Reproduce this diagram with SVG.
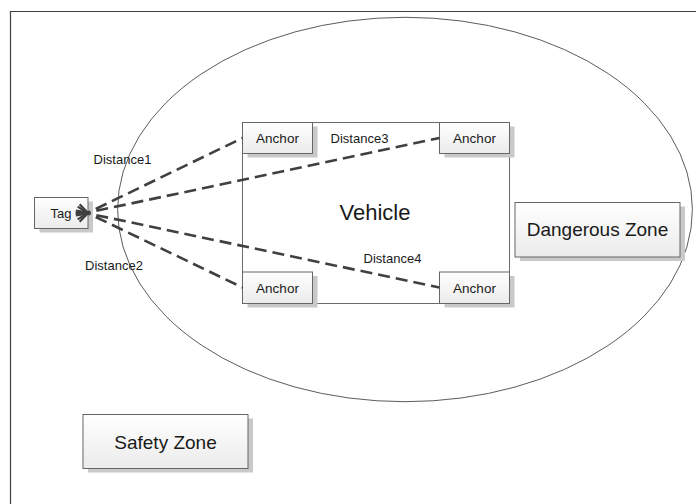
<svg xmlns="http://www.w3.org/2000/svg" width="696" height="504" viewBox="0 0 696 504">
  <defs>
    <linearGradient id="boxFill" x1="0" y1="0" x2="0" y2="1">
      <stop offset="0" stop-color="#ffffff"/>
      <stop offset="1" stop-color="#ebebeb"/>
    </linearGradient>
    <marker id="openArrow" viewBox="-1 -7 16 14" refX="0" refY="0" markerWidth="16" markerHeight="14" markerUnits="userSpaceOnUse" orient="auto-start-reverse">
      <path d="M12,-4.5 L0,0 L12,4.5" fill="none" stroke="#404040" stroke-width="2.2" stroke-dasharray="none" stroke-linejoin="miter"/>
    </marker>
    <style>
      .frame { fill: none; stroke: #404040; stroke-width: 1.2; }
      .zone { fill: none; stroke: #4a4a4a; stroke-width: 0.9; }
      .vehicle { fill: #ffffff; stroke: #6a6a6a; stroke-width: 1; }
      .shadow { fill: #c9c9c9; }
      .box { fill: url(#boxFill); stroke: #666666; stroke-width: 1; }
      .link { fill: none; stroke: #404040; stroke-width: 2.6; stroke-dasharray: 12 6; stroke-dashoffset: -8; marker-start: url(#openArrow); }
      text { font-family: "Liberation Sans", Arial, sans-serif; fill: #1a1a1a; text-anchor: middle; }
      .small { font-size: 13px; }
      .anchor { font-size: 13.5px; }
      .big { font-size: 19px; }
      .title { font-size: 22px; }
    </style>
  </defs>

  <rect width="696" height="504" fill="#ffffff"/>

  <!-- page frame (right and bottom edges run off the sheet) -->
  <path class="frame" d="M10.5,520 L10.5,11.5 L710,11.5"/>

  <!-- dangerous zone boundary -->
  <ellipse id="zone" class="zone" cx="405" cy="209.5" rx="287.4" ry="192.2"/>

  <!-- vehicle body -->
  <g id="vehicle">
    <rect class="vehicle" x="242.5" y="122.5" width="267" height="181"/>
    <text class="title" x="375" y="220">Vehicle</text>
  </g>

  <g id="anchor-tl">
    <rect class="shadow" x="247.5" y="126.5" width="70" height="31"/>
    <rect class="box" x="242.5" y="122.5" width="70" height="31"/>
    <text class="anchor" x="277.5" y="143">Anchor</text>
  </g>
  <g id="anchor-tr">
    <rect class="shadow" x="444.5" y="126.5" width="70" height="31"/>
    <rect class="box" x="439.5" y="122.5" width="70" height="31"/>
    <text class="anchor" x="474.5" y="143">Anchor</text>
  </g>
  <g id="anchor-bl">
    <rect class="shadow" x="247.5" y="276" width="70" height="31.5"/>
    <rect class="box" x="242.5" y="272" width="70" height="31.5"/>
    <text class="anchor" x="277.5" y="292.5">Anchor</text>
  </g>
  <g id="anchor-br">
    <rect class="shadow" x="444.5" y="276" width="70" height="31.5"/>
    <rect class="box" x="439.5" y="272" width="70" height="31.5"/>
    <text class="anchor" x="474.5" y="292.5">Anchor</text>
  </g>

  <g id="tag">
    <rect class="shadow" x="39.5" y="201.5" width="53.5" height="31"/>
    <rect class="box" x="34.5" y="197.5" width="53.5" height="31"/>
    <text class="small" x="61" y="217.5">Tag</text>
  </g>

  <g id="dangerous-zone">
    <rect class="shadow" x="520" y="206.5" width="165" height="54.5"/>
    <rect class="box" x="515" y="202.5" width="165" height="54.5"/>
    <text class="big" x="597.5" y="236">Dangerous Zone</text>
  </g>

  <g id="safety-zone">
    <rect class="shadow" x="88" y="418.5" width="165" height="54"/>
    <rect class="box" x="83" y="414.5" width="165" height="54"/>
    <text class="big" x="165.5" y="449">Safety Zone</text>
  </g>

  <!-- range measurements from tag to each anchor -->
  <g id="connectors">
    <path class="link" d="M88.5,212.5 L242.5,138"/>
    <path class="link" d="M88.5,212.5 L439.5,138"/>
    <path class="link" d="M88.5,213.5 L439.5,287.5"/>
    <path class="link" d="M88.5,213.5 L242.5,287.5"/>
  </g>

  <g id="labels">
    <text class="small" x="122.5" y="163.5">Distance1</text>
    <text class="small" x="114" y="270">Distance2</text>
    <text class="small" x="359.5" y="142.5">Distance3</text>
    <text class="small" x="392.5" y="262.5">Distance4</text>
  </g>
</svg>
